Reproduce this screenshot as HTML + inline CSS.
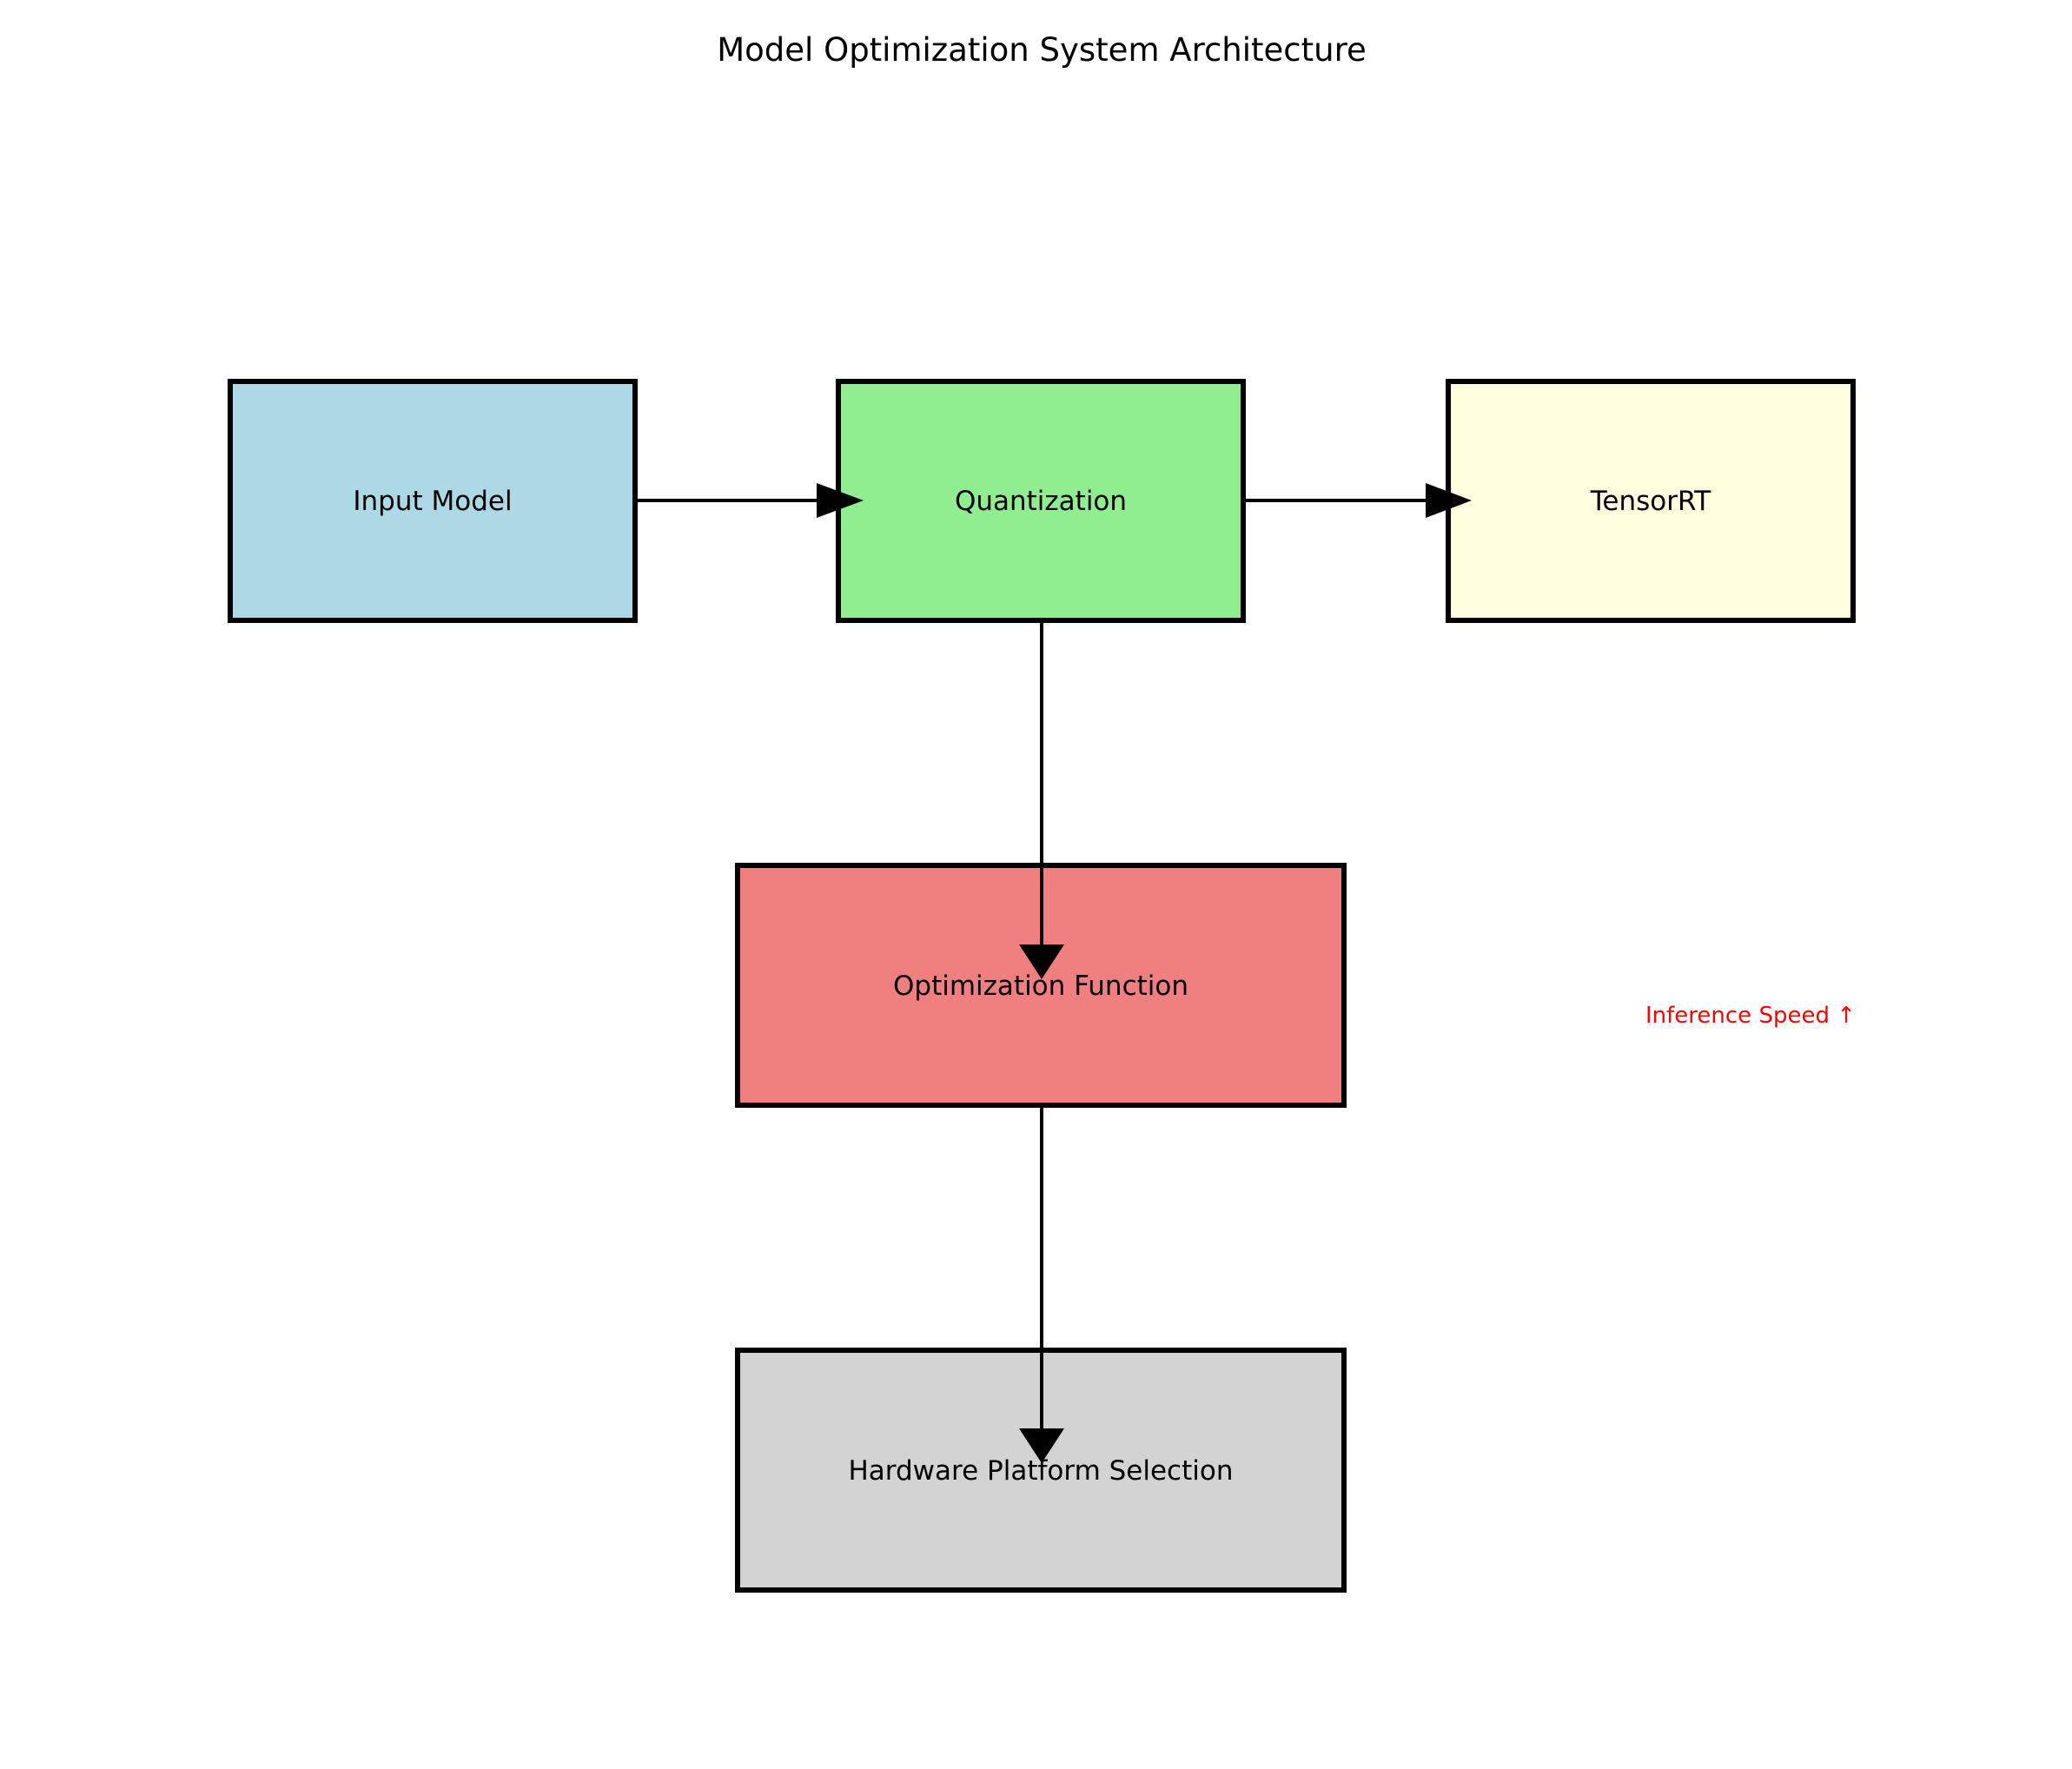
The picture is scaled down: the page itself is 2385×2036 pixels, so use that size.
<!DOCTYPE html>
<html><head><meta charset="utf-8"><style>html,body{margin:0;padding:0;background:#fff}svg{display:block}</style></head>
<body>
<svg width="2385" height="2036" viewBox="0 0 2385 2036" xmlns="http://www.w3.org/2000/svg" font-family="DejaVu Sans, Liberation Sans, sans-serif">
<rect width="2385" height="2036" fill="#fff"/>
<text x="1199" y="70" font-size="37" text-anchor="middle" fill="#000">Model Optimization System Architecture</text>
<g stroke="#000" stroke-width="6">
<rect x="265" y="439" width="466" height="275" fill="#add8e6"/>
<rect x="965" y="439" width="466" height="275" fill="#90ee90"/>
<rect x="1667" y="439" width="466" height="275" fill="#ffffe0"/>
<rect x="849" y="996" width="698" height="276" fill="#f08080"/>
<rect x="849" y="1554" width="698" height="276" fill="#d3d3d3"/>
</g>
<g font-size="31" text-anchor="middle" fill="#000">
<text x="498" y="587">Input Model</text>
<text x="1198" y="587">Quantization</text>
<text x="1900" y="587">TensorRT</text>
<text x="1198" y="1145">Optimization Function</text>
<text x="1198" y="1703">Hardware Platform Selection</text>
</g>
<text x="2015" y="1177" font-size="26" text-anchor="middle" fill="#ff0000">Inference Speed ↑</text>
<g stroke="#000" stroke-width="4">
<line x1="731" y1="576" x2="950" y2="576"/>
<line x1="1431" y1="576" x2="1650" y2="576"/>
<line x1="1199" y1="714" x2="1199" y2="1090"/>
<line x1="1199" y1="1272" x2="1199" y2="1645"/>
</g>
<g fill="#000">
<polygon points="940,556 994,576 940,596"/>
<polygon points="1641,556 1694,576 1641,596"/>
<polygon points="1173,1087 1225,1087 1199,1127"/>
<polygon points="1173,1644 1225,1644 1199,1684"/>
</g>
</svg>
</body></html>
